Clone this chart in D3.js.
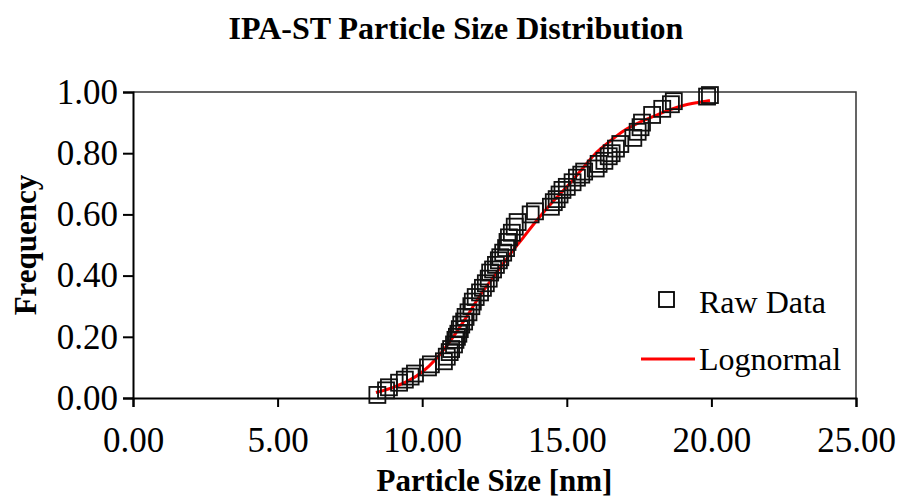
<!DOCTYPE html>
<html>
<head>
<meta charset="utf-8">
<script src="https://cdn.jsdelivr.net/npm/d3@7"></script>
<style>
  body { margin: 0; background: #fff; }
  svg { display: block; font-family: "Liberation Serif", "Times New Roman", serif; }
</style>
</head>
<body>
<svg id="chart"></svg>
<script>
// raw data: particle size [nm] and cumulative frequency
const rawSize = [8.45, 8.75, 8.85, 9.2, 9.4, 9.6, 9.75, 10.2, 10.3, 10.75, 10.85, 10.95,
  11.0, 11.1, 11.15, 11.2, 11.25, 11.3, 11.35, 11.45, 11.5, 11.6, 11.7, 11.75, 11.85,
  12.0, 12.1, 12.2, 12.3, 12.35, 12.45, 12.55, 12.65, 12.7, 12.8, 12.9, 12.95, 13.0,
  13.1, 13.2, 13.3, 13.75, 13.9, 14.45, 14.55, 14.65, 14.75, 14.85, 15.0, 15.2, 15.35,
  15.5, 15.6, 16.0, 16.1, 16.3, 16.45, 16.55, 16.7, 16.85, 17.3, 17.45, 17.55, 17.6,
  17.95, 18.3, 18.6, 18.7, 19.85, 19.95];
const rawFreq = [0.01, 0.025, 0.035, 0.05, 0.06, 0.07, 0.08, 0.10, 0.11, 0.12, 0.135, 0.15,
  0.16, 0.175, 0.19, 0.20, 0.21, 0.225, 0.24, 0.25, 0.265, 0.28, 0.30, 0.315, 0.33,
  0.345, 0.36, 0.375, 0.39, 0.41, 0.42, 0.435, 0.45, 0.46, 0.475, 0.49, 0.51, 0.525,
  0.54, 0.56, 0.575, 0.60, 0.61, 0.625, 0.64, 0.65, 0.665, 0.68, 0.69, 0.705, 0.72,
  0.73, 0.74, 0.75, 0.765, 0.775, 0.79, 0.80, 0.815, 0.83, 0.85, 0.87, 0.885, 0.90,
  0.925, 0.945, 0.96, 0.97, 0.985, 0.99];

// lognormal fit
const fitSize = [8.4, 9.0, 9.5, 10.0, 10.5, 11.0, 11.5, 12.0, 12.5, 13.0, 13.5, 14.0, 14.5,
  15.0, 15.5, 16.0, 16.5, 17.0, 17.5, 18.0, 18.5, 19.0, 19.5, 19.95];
const fitFreq = [0.018, 0.035, 0.055, 0.085, 0.13, 0.19, 0.26, 0.335, 0.40, 0.465, 0.525,
  0.585, 0.64, 0.69, 0.745, 0.80, 0.84, 0.875, 0.90, 0.92, 0.94, 0.955, 0.965, 0.972];

const xTicks = [0, 5, 10, 15, 20, 25];
const yTicks = [0, 0.2, 0.4, 0.6, 0.8, 1.0];

const width = 898;
const height = 502;
const pLeft = 133, pRight = 856, pTop = 92, pBottom = 398;

let svg = d3.select("#chart").attr("width", width).attr("height", height);

let x = d3.scaleLinear().domain([0, 25]).range([pLeft, pRight]);
let y = d3.scaleLinear().domain([0, 1]).range([pBottom, pTop]);

// plot border (top / right)
svg.append("path")
  .attr("d", `M${pLeft},${pTop}H${pRight}V${pBottom}`)
  .attr("fill", "none")
  .attr("stroke", "#333")
  .attr("stroke-width", 1.5);

// axes
let xAxis = d3.axisBottom(x).tickValues(xTicks).tickSize(9).tickPadding(20)
  .tickFormat(d3.format(".2f"));
let yAxis = d3.axisLeft(y).tickValues(yTicks).tickSize(10).tickPadding(5)
  .tickFormat(d3.format(".2f"));

let gx = svg.append("g").attr("transform", `translate(0,${pBottom})`).call(xAxis);
let gy = svg.append("g").attr("transform", `translate(${pLeft},0)`).call(yAxis);

[gx, gy].forEach(g => {
  g.select(".domain").attr("stroke", "#000").attr("stroke-width", 2);
  g.selectAll(".tick line").attr("stroke", "#000").attr("stroke-width", 2);
  g.selectAll("text").attr("font-family", "Liberation Serif").attr("font-size", 35).attr("fill", "#000");
});
gx.selectAll("text").attr("dy", "0.71em");

// lognormal line
let line = d3.line().x(d => x(d[0])).y(d => y(d[1])).curve(d3.curveMonotoneX);
svg.append("path")
  .datum(fitSize.map((s, i) => [s, fitFreq[i]]))
  .attr("d", line)
  .attr("fill", "none")
  .attr("stroke", "#ff0000")
  .attr("stroke-width", 3);

// raw data markers
const m = 16;
svg.append("g").selectAll("rect")
  .data(rawSize.map((s, i) => [s, rawFreq[i]]))
  .enter()
  .append("rect")
  .attr("x", d => x(d[0]) - m / 2)
  .attr("y", d => y(d[1]) - m / 2)
  .attr("width", m)
  .attr("height", m)
  .attr("fill", "none")
  .attr("stroke", "#111")
  .attr("stroke-width", 1.8);

// title
svg.append("text")
  .text("IPA-ST Particle Size Distribution")
  .attr("x", 456).attr("y", 39)
  .attr("text-anchor", "middle")
  .attr("font-weight", "bold")
  .attr("font-size", 32);

// axis titles
svg.append("text")
  .text("Particle Size [nm]")
  .attr("x", (pLeft + pRight) / 2).attr("y", 491)
  .attr("text-anchor", "middle")
  .attr("font-weight", "bold")
  .attr("font-size", 31);

svg.append("text")
  .text("Frequency")
  .attr("transform", `translate(36,${(pTop + pBottom) / 2}) rotate(-90)`)
  .attr("text-anchor", "middle")
  .attr("font-weight", "bold")
  .attr("font-size", 31);

// legend
let legend = svg.append("g");
legend.append("rect")
  .attr("x", 659).attr("y", 292).attr("width", 15).attr("height", 15)
  .attr("fill", "none").attr("stroke", "#000").attr("stroke-width", 1.8);
legend.append("text").text("Raw Data")
  .attr("x", 699).attr("y", 313).attr("font-size", 32);
legend.append("line")
  .attr("x1", 641).attr("x2", 695).attr("y1", 359).attr("y2", 359)
  .attr("stroke", "#ff0000").attr("stroke-width", 3);
legend.append("text").text("Lognormal")
  .attr("x", 699).attr("y", 370).attr("font-size", 32);
</script>
</body>
</html>
